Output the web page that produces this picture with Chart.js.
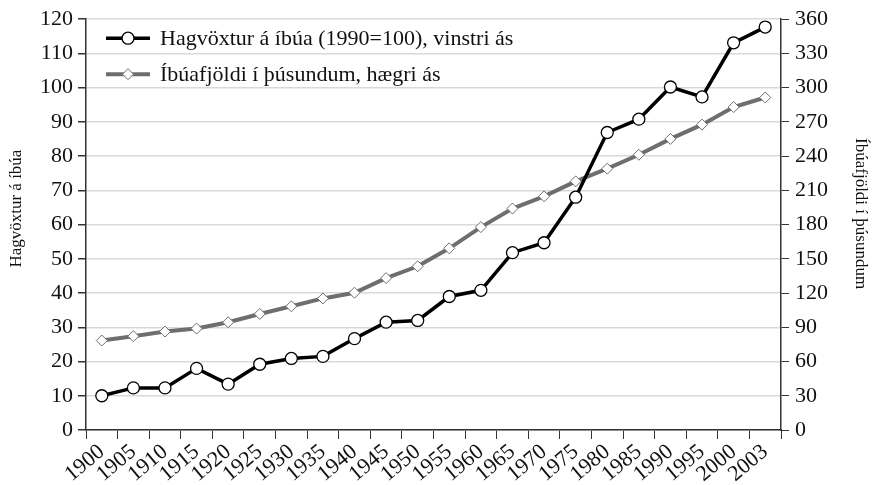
<!DOCTYPE html>
<html>
<head>
<meta charset="utf-8">
<script src="https://cdn.jsdelivr.net/npm/chart.js@4"></script>
<style>
    html, body { margin: 0; padding: 0; background: #fff; }
    #wrap { width: 872px; height: 485px; }
</style>
</head>
<body>
<div id="wrap"><canvas id="growthChart" width="872" height="485"></canvas></div>
<script>
// Data
const years = ['1900', '1905', '1910', '1915', '1920', '1925', '1930', '1935', '1940', '1945', '1950',
    '1955', '1960', '1965', '1970', '1975', '1980', '1985', '1990', '1995', '2000', '2003'];
const growthPerCapita = [10, 12.3, 12.3, 18, 13.4, 19.2, 20.9, 21.5, 26.7, 31.5, 32,
    39, 40.8, 51.8, 54.7, 68, 86.9, 90.8, 100.2, 97.3, 113.1, 117.7];
const population = [78.4, 82.2, 86.3, 88.9, 94.4, 101.7, 108.4, 115.3, 120.3, 133.1, 143.5,
    159.2, 177.8, 194.1, 204.8, 217.9, 229, 241.2, 255.1, 267.6, 283, 291.4];

const growthLabel = 'Hagvöxtur á íbúa (1990=100), vinstri ás';
const popLabel = 'Íbúafjöldi í þúsundum, hægri ás';
const leftTitle = 'Hagvöxtur á íbúa';
const rightTitle = 'Íbúafjöldi í þúsundum';

const serif = "'Liberation Serif', 'DejaVu Serif', serif";
const axisDark = '#333333';

// Legend drawn inside the plot, top left
const innerLegend = {
    id: 'innerLegend',
    afterDraw(chart) {
        const ctx = chart.ctx;
        const x0 = chart.chartArea.left + 20;
        const rows = [
            { y: chart.chartArea.top + 19, ds: chart.data.datasets[0] },
            { y: chart.chartArea.top + 55, ds: chart.data.datasets[1] }
        ];
        ctx.save();
        rows.forEach(function(r) {
            ctx.strokeStyle = r.ds.borderColor;
            ctx.lineWidth = r.ds.borderWidth;
            ctx.beginPath();
            ctx.moveTo(x0, r.y);
            ctx.lineTo(x0 + 44, r.y);
            ctx.stroke();
            ctx.fillStyle = r.ds.pointBackgroundColor;
            ctx.strokeStyle = r.ds.pointBorderColor;
            ctx.lineWidth = r.ds.pointBorderWidth;
            ctx.beginPath();
            if (r.ds.pointStyle === 'circle') {
                ctx.arc(x0 + 22, r.y, r.ds.pointRadius, 0, Math.PI * 2);
            } else {
                const s = r.ds.pointRadius;
                ctx.moveTo(x0 + 22, r.y - s);
                ctx.lineTo(x0 + 22 + s, r.y);
                ctx.lineTo(x0 + 22, r.y + s);
                ctx.lineTo(x0 + 22 - s, r.y);
                ctx.closePath();
            }
            ctx.fill();
            ctx.stroke();
            ctx.fillStyle = '#111';
            ctx.font = '22px ' + serif;
            ctx.textBaseline = 'middle';
            ctx.textAlign = 'left';
            ctx.fillText(r.ds.label, x0 + 54, r.y + 1);
        });
        ctx.restore();
    }
};

// Axis titles sit a bit above the axis middle in the original
const axisTitles = {
    id: 'axisTitles',
    afterDraw(chart) {
        const ctx = chart.ctx;
        const cy = (chart.chartArea.top + chart.chartArea.bottom) / 2 - 16;
        ctx.save();
        ctx.fillStyle = '#111';
        ctx.font = '17px ' + serif;
        ctx.textAlign = 'center';
        ctx.textBaseline = 'middle';
        ctx.translate(17, cy);
        ctx.rotate(-Math.PI / 2);
        ctx.fillText(leftTitle, 0, 0);
        ctx.restore();
        ctx.save();
        ctx.fillStyle = '#111';
        ctx.font = '17px ' + serif;
        ctx.textAlign = 'center';
        ctx.textBaseline = 'middle';
        ctx.translate(860, cy + 5);
        ctx.rotate(Math.PI / 2);
        ctx.fillText(rightTitle, 0, 0);
        ctx.restore();
    }
};

const ctx = document.getElementById('growthChart').getContext('2d');

new Chart(ctx, {
    type: 'line',
    data: {
        labels: years,
        datasets: [
            {
                label: growthLabel,
                data: growthPerCapita,
                yAxisID: 'y',
                borderColor: '#000',
                borderWidth: 3.5,
                pointStyle: 'circle',
                pointRadius: 6,
                pointBorderWidth: 1.3,
                pointBackgroundColor: '#fff',
                pointBorderColor: '#000',
                tension: 0,
                order: 0
            },
            {
                label: popLabel,
                data: population,
                yAxisID: 'y1',
                borderColor: '#6e6e6e',
                borderWidth: 4,
                pointStyle: 'rectRot',
                pointRadius: 5.5,
                pointBorderWidth: 1,
                pointBackgroundColor: '#fff',
                pointBorderColor: '#6e6e6e',
                tension: 0,
                order: 1
            }
        ]
    },
    options: {
        responsive: false,
        animation: false,
        devicePixelRatio: 1,
        layout: { padding: { top: 4, left: 0, right: 0, bottom: 0 } },
        plugins: {
            legend: { display: false },
            tooltip: { enabled: false }
        },
        scales: {
            x: {
                offset: true,
                grid: {
                    offset: true,
                    drawOnChartArea: false,
                    drawTicks: true,
                    tickLength: 9,
                    tickColor: axisDark
                },
                border: { color: axisDark, width: 1.5 },
                ticks: {
                    color: '#111',
                    font: { family: serif, size: 22 },
                    maxRotation: 40,
                    minRotation: 40,
                    autoSkip: false,
                    padding: 0
                },
                afterFit: function(scale) { scale.height = 55; }
            },
            y: {
                position: 'left',
                min: 0,
                max: 120,
                ticks: {
                    stepSize: 10,
                    color: '#111',
                    font: { family: serif, size: 22 },
                    padding: 5
                },
                grid: {
                    color: '#d9d9d9',
                    lineWidth: 1.5,
                    tickLength: 8,
                    tickColor: axisDark
                },
                border: { color: axisDark, width: 1.5 },
                afterFit: function(scale) { scale.width = 86; }
            },
            y1: {
                position: 'right',
                min: 0,
                max: 360,
                ticks: {
                    stepSize: 30,
                    color: '#111',
                    font: { family: serif, size: 22 },
                    padding: 6
                },
                grid: {
                    drawOnChartArea: false,
                    tickLength: 8,
                    tickColor: axisDark
                },
                border: { color: axisDark, width: 1.5 },
                afterFit: function(scale) { scale.width = 91; }
            }
        }
    },
    plugins: [innerLegend, axisTitles]
});
</script>
</body>
</html>
